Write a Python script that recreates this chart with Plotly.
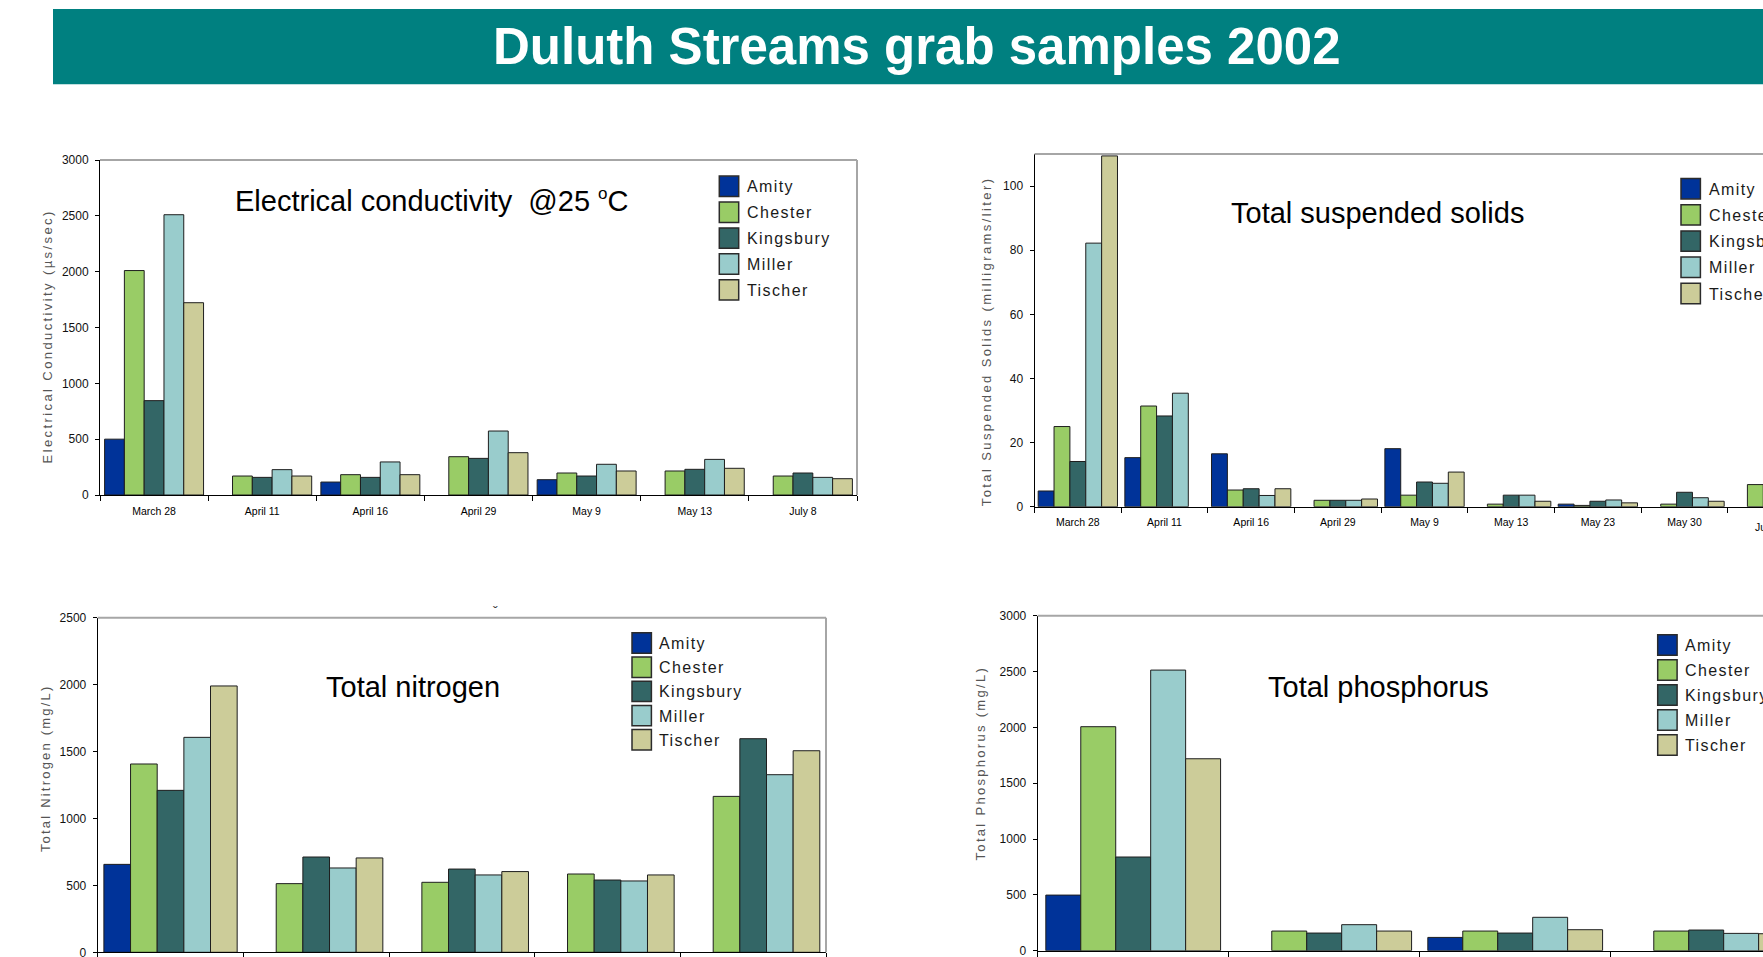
import plotly.graph_objects as go

W, H = 1763, 957

stations = ["Amity", "Chester", "Kingsbury", "Miller", "Tischer"]
colors = ["#003399", "#99CC66", "#336666", "#99CCCC", "#CCCC99"]

# Electrical conductivity (µs/sec)
ec_dates = ["March 28", "April 11", "April 16", "April 29", "May 9", "May 13", "July 8"]
ec_amity = [500, None, 116, None, 137, None, None]
ec_chester = [2010, 170, 182, 343, 197, 215, 170]
ec_kingsbury = [845, 158, 158, 328, 170, 230, 197]
ec_miller = [2510, 227, 296, 573, 275, 319, 158]
ec_tischer = [1722, 170, 182, 379, 215, 239, 146]

# Total suspended solids (mg/l)
tss_dates = ["March 28", "April 11", "April 16", "April 29", "May 9", "May 13",
             "May 23", "May 30", "June 6"]
tss_amity = [4.9, 15.3, 16.5, None, 18.1, None, 0.8, None, None]
tss_chester = [25.0, 31.4, 5.2, 2.0, 3.6, 0.8, 0.4, 0.8, 6.9]
tss_kingsbury = [14.1, 28.3, 5.6, 2.0, 7.7, 3.6, 1.7, 4.5, None]
tss_miller = [82.2, 35.4, 3.5, 2.0, 7.3, 3.6, 2.1, 2.8, None]
tss_tischer = [109.4, None, 5.6, 2.4, 10.8, 1.7, 1.2, 1.7, None]

# Total nitrogen (mg/L)
tn_dates = ["March 28", "April 11", "April 29", "May 13", "July 8"]
tn_amity = [657, None, None, None, None]
tn_chester = [1407, 513, 523, 585, 1165]
tn_kingsbury = [1210, 712, 622, 540, 1596]
tn_miller = [1606, 630, 578, 533, 1327]
tn_tischer = [1990, 705, 603, 578, 1506]

# Total phosphorus (mg/L)
tp_dates = ["March 28", "April 11", "April 16", "July 8"]
tp_amity = [498, None, 119, None]
tp_chester = [2006, 176, 176, 176]
tp_kingsbury = [839, 158, 158, 185]
tp_miller = [2513, 233, 299, 155]
tp_tischer = [1719, 176, 188, 152]

FONT = "Arial, Liberation Sans, sans-serif"

# pixel geometry of each panel on the slide
panels = [
    dict(cats=ec_dates,
         series=[ec_amity, ec_chester, ec_kingsbury, ec_miller, ec_tischer],
         x0=100, x1=857, top=160, bottom=495, cat_w=None, ymax=3000, dtick=500,
         show_dates=True,
         title='Electrical conductivity&nbsp; @25 <sup><span style="font-size:17px">o</span></sup>C',
         title_xy=(432, 200), title_size=29,
         ytitle="Electrical Conductivity (µs/sec)", ytitle_xy=(47, 337),
         leg=dict(sx=719.3, tx=745, y0=186.3, step=25.9)),
    dict(cats=tss_dates,
         series=[tss_amity, tss_chester, tss_kingsbury, tss_miller, tss_tischer],
         x0=1034.5, x1=W, top=154, bottom=506.7, cat_w=86.67, ymax=110, dtick=20,
         show_dates=True,
         title="Total suspended solids", title_xy=(1377, 213), title_size=29,
         ytitle="Total Suspended Solids (milligrams/liter)", ytitle_xy=(986, 342),
         leg=dict(sx=1681, tx=1706.5, y0=188.7, step=26.2)),
    dict(cats=tn_dates,
         series=[tn_amity, tn_chester, tn_kingsbury, tn_miller, tn_tischer],
         x0=97.7, x1=826, top=617.7, bottom=952.3, cat_w=None, ymax=2500, dtick=500,
         show_dates=False,
         title="Total nitrogen", title_xy=(413, 687), title_size=29,
         ytitle="Total Nitrogen (mg/L)", ytitle_xy=(45, 769),
         leg=dict(sx=632, tx=656.5, y0=643, step=24.2)),
    dict(cats=tp_dates,
         series=[tp_amity, tp_chester, tp_kingsbury, tp_miller, tp_tischer],
         x0=1037.7, x1=W, top=615.7, bottom=950.7, cat_w=191.0, ymax=3000, dtick=500,
         show_dates=False,
         title="Total phosphorus", title_xy=(1378, 687), title_size=29,
         ytitle="Total Phosphorus (mg/L)", ytitle_xy=(980, 763),
         leg=dict(sx=1657.7, tx=1682.5, y0=645, step=25.0)),
]


def fx(px):
    return px / W


def fy(py):
    return 1 - py / H


fig = go.Figure()
layout_axes = {}
shapes = []
annotations = []

# slide header band
shapes.append(dict(type="rect", xref="paper", yref="paper",
                   x0=fx(53), x1=1.0, y0=fy(84.3), y1=fy(9),
                   fillcolor="#008080", line=dict(width=0), layer="below"))
annotations.append(dict(text="<b>Duluth Streams grab samples 2002</b>",
                        xref="paper", yref="paper", x=fx(916.5), y=fy(47),
                        xanchor="center", yanchor="middle", showarrow=False,
                        font=dict(family=FONT, size=51, color="white")))

for i, p in enumerate(panels):
    n = i + 1
    sfx = "" if n == 1 else str(n)
    xref, yref = "x" + sfx, "y" + sfx

    for name, col, vals in zip(stations, colors, p["series"]):
        fig.add_trace(go.Bar(
            x=p["cats"], y=vals, name=name,
            marker=dict(color=col, line=dict(color="#1e1e1e", width=1)),
            xaxis=xref, yaxis=yref, showlegend=False))

    if p["cat_w"]:
        x_end = -0.5 + (p["x1"] - p["x0"]) / p["cat_w"]
    else:
        x_end = len(p["cats"]) - 0.5

    layout_axes["xaxis" + sfx] = dict(
        type="category", domain=[fx(p["x0"]), fx(p["x1"])], anchor=yref,
        range=[-0.5, x_end], showline=True, linecolor="black", linewidth=1,
        ticks="outside", tickson="boundaries", ticklen=5, tickcolor="black",
        tickwidth=1, ticklabelstandoff=6, showgrid=False, zeroline=False,
        showticklabels=p["show_dates"],
        tickfont=dict(family=FONT, size=10.5, color="black"), automargin=False)
    layout_axes["yaxis" + sfx] = dict(
        domain=[fy(p["bottom"]), fy(p["top"])], anchor=xref,
        range=[0, p["ymax"]], dtick=p["dtick"], showline=True,
        linecolor="black", linewidth=1, ticks="outside", ticklen=4,
        tickcolor="black", tickwidth=1, ticklabelstandoff=4, showgrid=False,
        zeroline=False, ticklabeloverflow="allow",
        tickfont=dict(family=FONT, size=12, color="#111"),
        automargin=False)

    # grey frame on top (and right where the panel is not cut by the slide edge)
    shapes.append(dict(type="line", xref=xref + " domain", yref=yref + " domain",
                       x0=0, x1=1, y0=1, y1=1,
                       line=dict(color="#a6a6a6", width=2)))
    if p["x1"] < W:
        shapes.append(dict(type="line", xref=xref + " domain", yref=yref + " domain",
                           x0=1, x1=1, y0=0, y1=1,
                           line=dict(color="#a6a6a6", width=2)))

    # panel title
    annotations.append(dict(text=p["title"], xref="paper", yref="paper",
                            x=fx(p["title_xy"][0]), y=fy(p["title_xy"][1]),
                            xanchor="center", yanchor="middle", showarrow=False,
                            font=dict(family=FONT, size=p["title_size"], color="black")))
    # y axis title
    annotations.append(dict(text=p["ytitle"], xref="paper", yref="paper",
                            x=fx(p["ytitle_xy"][0]), y=fy(p["ytitle_xy"][1]),
                            xanchor="center", yanchor="middle", textangle=-90,
                            showarrow=False,
                            font=dict(family=FONT, size=13, color="#555555")))

    # legend block
    lg = p["leg"]
    for j, (name, col) in enumerate(zip(stations, colors)):
        yc = lg["y0"] + j * lg["step"]
        shapes.append(dict(type="rect", xref="paper", yref="paper",
                           x0=fx(lg["sx"]), x1=fx(lg["sx"] + 19.4),
                           y0=fy(yc + 10.2), y1=fy(yc - 10.2),
                           fillcolor=col, line=dict(color="#2b2b2b", width=1.5)))
        annotations.append(dict(text=name, xref="paper", yref="paper",
                                x=fx(lg["tx"]), y=fy(yc + 0.5),
                                xanchor="left", yanchor="middle", align="left",
                                showarrow=False,
                                font=dict(family=FONT, size=16, color="#1a1a1a")))

# category label of the suspended-solids date that runs past the slide edge
tss = panels[1]
annotations.append(dict(text=tss_dates[-1], xref="paper", yref="paper",
                        x=fx(tss["x0"] + (len(tss_dates) - 0.5) * tss["cat_w"]),
                        y=fy(tss["bottom"] + 20.5), xanchor="center", yanchor="middle",
                        showarrow=False,
                        font=dict(family=FONT, size=10.5, color="black")))

# small stray mark above the nitrogen panel
annotations.append(dict(text="ˇ", xref="paper", yref="paper", x=fx(495), y=fy(612),
                        xanchor="center", yanchor="middle", showarrow=False,
                        font=dict(family=FONT, size=14, color="#333")))

fig.update_layout(
    width=W, height=H, autosize=False,
    margin=dict(l=0, r=0, t=0, b=0, pad=0),
    paper_bgcolor="white", plot_bgcolor="white",
    barmode="group", bargap=0.085, bargroupgap=0,
    showlegend=False,
    shapes=shapes, annotations=annotations,
    **layout_axes,
)

spacing_js = """
var spaced = [["Amity",1.4],["Chester",1.4],["Kingsbury",1.4],["Miller",1.4],["Tischer",1.4],
              ["Electrical Conductivity",2.4],["Total Suspended",2.4],
              ["Total Nitrogen",2.2],["Total Phosphorus",2.3]];
document.querySelectorAll('text').forEach(function(t){
  var s = t.textContent;
  spaced.forEach(function(e){
    if (s === e[0] || (e[0].length > 8 && s.indexOf(e[0]) === 0)) {
      t.setAttribute('letter-spacing', e[1] + 'px');
    }
  });
});
"""

fig.write_html("out.html", config={"displayModeBar": False}, post_script=spacing_js)
